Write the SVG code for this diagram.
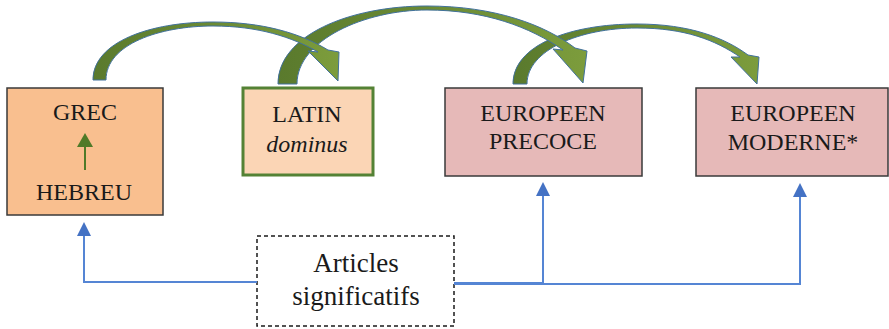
<svg xmlns="http://www.w3.org/2000/svg" width="889" height="329" viewBox="0 0 889 329">
<style>
.t{font-family:"Liberation Serif","Times New Roman",serif;font-size:24px;fill:#1a1a1a;text-anchor:middle}
.big{font-size:27px}
.box{stroke:#3a3a3a;stroke-width:1.5}
.blue{fill:none;stroke:#5585D4;stroke-width:2}
.curve{fill:url(#g);stroke:#41719C;stroke-width:1}
</style>
<defs>
<linearGradient id="g" x1="0" y1="0" x2="1" y2="0">
<stop offset="0" stop-color="#5A7A2D"/>
<stop offset="1" stop-color="#7C9C3C"/>
</linearGradient>
<marker id="ba" markerWidth="14" markerHeight="14" refX="12" refY="7" orient="auto" markerUnits="userSpaceOnUse" viewBox="0 0 14 14">
<path d="M0,0 L14,7 L0,14 Z" fill="#4472C4"/>
</marker>
</defs>
<g id="grec">
<rect class="box" x="7" y="88" width="156" height="127" fill="#F9BF8F"/>
<text class="t" x="85" y="120">GREC</text>
<line x1="85" y1="170" x2="85" y2="146" stroke="#4F7A28" stroke-width="2"/>
<path d="M77,147 L93,147 L85,133 Z" fill="#4F7A28"/>
<text class="t" x="84" y="200">HEBREU</text>
</g>
<g id="latin">
<rect x="243" y="88" width="130" height="87" fill="#FBD5B5" stroke="#548235" stroke-width="3"/>
<text class="t" x="307" y="122">LATIN</text>
<text class="t" x="307" y="152" font-style="italic">dominus</text>
</g>
<g id="europeen-precoce">
<rect class="box" x="445" y="88" width="197" height="88" fill="#E6B9B8"/>
<text class="t" x="543" y="121">EUROPEEN</text>
<text class="t" x="543" y="149">PRECOCE</text>
</g>
<g id="europeen-moderne">
<rect class="box" x="696" y="88" width="192" height="88" fill="#E6B9B8"/>
<text class="t" x="793" y="121">EUROPEEN</text>
<text class="t" x="793" y="150">MODERNE*</text>
</g>
<g id="articles">
<rect x="257" y="236" width="197" height="90" fill="#fff" stroke="#1a1a1a" stroke-width="1.5" stroke-dasharray="4 3"/>
<text class="t big" x="356" y="272">Articles</text>
<text class="t big" x="356" y="305">significatifs</text>
</g>
<g id="connectors">
<path class="curve" d="M513,84 C513,45 570,24 637,24 C690,24 725,38 748,55 L759,57 L757,84 L731,57 L740,57 C715,40 685,28 637,28 C580,28 527,50 527,84 Z"/>
<path class="curve" d="M278,84 C278,35 350,6 427,6 C495,6 545,25 575,48 L587,51 L583,83 L553,49 L563,50 C530,27 485,10 427,10 C365,10 297,40 297,84 Z"/>
<path class="curve" d="M93,80 C93,42 150,22 213,22 C262,22 300,33 328,50 L339,52 L338,81 L308,51 L318,52 C292,37 258,26 213,26 C160,26 106,44 106,80 Z"/>
<path class="blue" d="M257,282 L84,282 L84,224" marker-end="url(#ba)"/>
<path class="blue" d="M454,284 L800,284 L800,185" marker-end="url(#ba)"/>
<path class="blue" d="M454,283 L543,283 L543,184" marker-end="url(#ba)"/>
</g>
</svg>
